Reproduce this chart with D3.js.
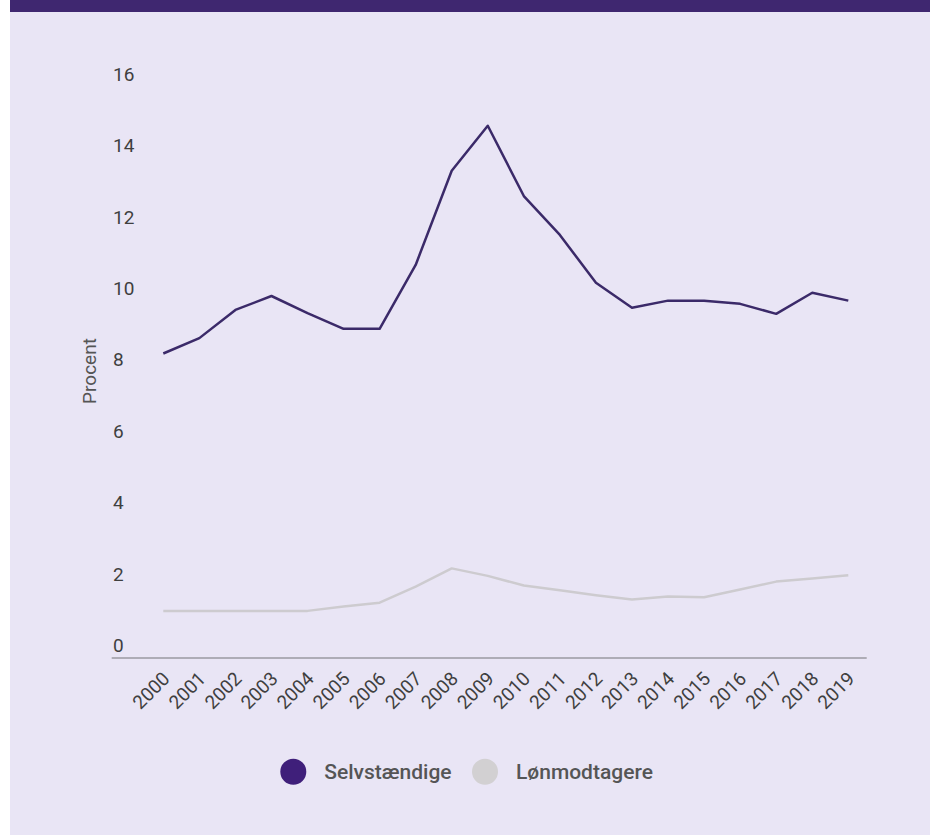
<!DOCTYPE html>
<html>
<head>
<meta charset="utf-8">
<script src="https://cdn.jsdelivr.net/npm/d3@7"></script>
<style>
  html, body { margin: 0; padding: 0; background: #ffffff; }
  svg { display: block; }
  text { font-family: Roboto, "Noto Sans", sans-serif; }
</style>
</head>
<body>
<svg id="chart" width="930" height="835"></svg>
<script>
const years = ["2000","2001","2002","2003","2004","2005","2006","2007","2008","2009",
               "2010","2011","2012","2013","2014","2015","2016","2017","2018","2019"];
const selvstaendige = [8.53, 8.96, 9.75, 10.14, 9.66, 9.22, 9.22, 11.01, 13.65, 14.91,
                       12.94, 11.85, 10.51, 9.81, 10.01, 10.01, 9.92, 9.64, 10.23, 10.01];
const loenmodtagere = [1.32, 1.32, 1.32, 1.32, 1.32, 1.44, 1.55, 2.0, 2.51, 2.30,
                       2.03, 1.90, 1.76, 1.64, 1.72, 1.70, 1.92, 2.14, 2.23, 2.32];
const yTicks = [0, 2, 4, 6, 8, 10, 12, 14, 16];
const seriesNames = ["Selvstændige", "Lønmodtagere"];
const seriesColors = ["#3b2a69", "#cdcbcf"];
const legendColors = ["#3f1f7a", "#d2d0d2"];

const svg = d3.select("#chart");
const W = 930, H = 835;

// frame
svg.append("rect").attr("x", 10).attr("y", 0).attr("width", W - 10).attr("height", H).attr("fill", "#e9e5f5");
svg.append("rect").attr("x", 10).attr("y", 0).attr("width", W - 10).attr("height", 12).attr("fill", "#3f2770");

const x = d3.scalePoint().domain(years).range([163.3, 848.3]);
const y = d3.scaleLinear().domain([0, 16]).range([658, 86.8]);

// y tick labels (above gridline, left aligned)
const yAxis = svg.append("g").attr("transform", "translate(113,0)");
yAxis.selectAll("text").data(yTicks).join("text")
  .attr("x", 0).attr("y", d => y(d) - 6)
  .attr("fill", "#3f3f3f").attr("font-size", 19).attr("text-anchor", "start")
  .text(d => d);

// baseline
svg.append("line").attr("x1", 111.7).attr("x2", 866.7).attr("y1", y(0)).attr("y2", y(0))
  .attr("stroke", "#9a98a0").attr("stroke-width", 1.5);

// x axis
const xAxisG = svg.append("g").attr("transform", `translate(0,${y(0)})`)
  .call(d3.axisBottom(x).tickSize(0).tickPadding(0));
xAxisG.select(".domain").remove();
xAxisG.selectAll("text")
  .attr("fill", "#3f3f3f").attr("font-size", 19)
  .attr("font-family", "Roboto, 'Noto Sans', sans-serif")
  .attr("text-anchor", "end").attr("dy", null).attr("y", 0)
  .attr("transform", "translate(7,22) rotate(-45)");

// y title
svg.append("text").attr("transform", "translate(96,371) rotate(-90)")
  .attr("text-anchor", "middle").attr("fill", "#555").attr("font-size", 19)
  .text("Procent");

// lines
const line = d3.line().x((d, i) => x(years[i])).y(d => y(d));
svg.append("path").datum(loenmodtagere).attr("d", line)
  .attr("fill", "none").attr("stroke", seriesColors[1]).attr("stroke-width", 2.5)
  .attr("stroke-linejoin", "round");
svg.append("path").datum(selvstaendige).attr("d", line)
  .attr("fill", "none").attr("stroke", seriesColors[0]).attr("stroke-width", 2.5)
  .attr("stroke-linejoin", "round");

// legend
const legend = svg.append("g").attr("transform", "translate(293.3,771.7)");
const legX = [0, 191.7];
seriesNames.forEach((name, i) => {
  const g = legend.append("g").attr("transform", `translate(${legX[i]},0)`);
  g.append("circle").attr("r", 13).attr("fill", legendColors[i]);
  g.append("text").attr("x", 31).attr("y", 7).attr("font-size", 21)
    .attr("fill", "#555").attr("font-weight", 500).text(name);
});
</script>
</body>
</html>
